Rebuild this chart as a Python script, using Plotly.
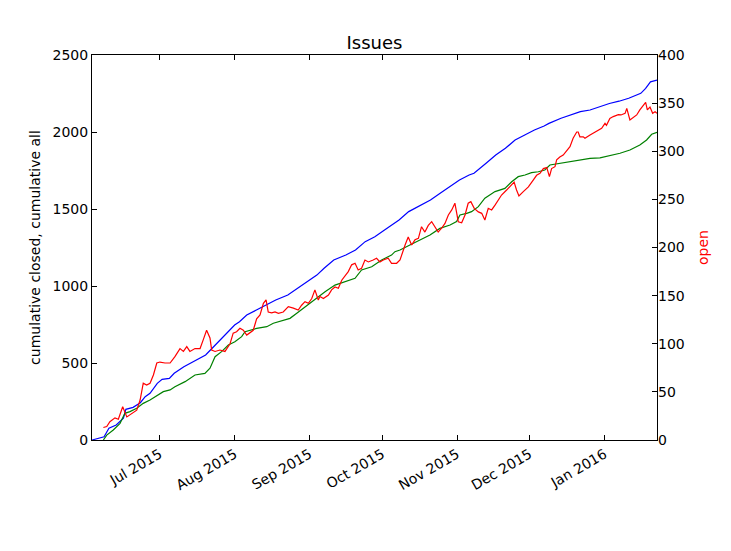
import pandas as pd
import plotly.graph_objects as go

START = pd.Timestamp("2015-06-03")

# cumulative all (blue) - days after START, values
all_days = [0, 5, 7, 10, 13, 14, 17, 20, 22, 24, 27, 29, 32, 34, 38, 43, 47, 51, 55, 59, 61, 64, 68, 72,
            76, 81, 85, 89, 93, 96, 100, 105, 109, 113, 117, 121, 125, 127, 131, 136, 140, 144, 148, 152,
            156, 158, 163, 167, 171, 175, 179, 183, 187, 189, 194, 198, 202, 206, 210, 214, 218, 222, 227,
            229, 231, 233.7]
all_vals = [0, 21, 76, 97, 141, 199, 212, 242, 281, 303, 368, 394, 400, 433, 476, 519, 552, 617, 682, 747,
            768, 812, 844, 877, 909, 942, 985, 1028, 1071, 1115, 1169, 1201, 1234, 1288, 1320, 1364, 1407,
            1429, 1483, 1526, 1558, 1602, 1645, 1688, 1721, 1732, 1797, 1851, 1894, 1948, 1981, 2013, 2039,
            2056, 2089, 2110, 2132, 2143, 2164, 2185, 2200, 2219, 2251, 2283, 2326, 2337]

# cumulative closed (green)
closed_days = [4.7, 6.1, 8.8, 11.6, 13.6, 15.7, 18.5, 21.2, 24.0, 26.8, 29.5, 32.3, 34.3, 38.5, 42.6, 46.7,
               48.8, 50.9, 53.6, 56.4, 59.1, 61.9, 63.3, 68.1, 72.3, 75.0, 79.1, 81.9, 84.7, 87.4, 90.2,
               92.9, 94.3, 96.4, 100.5, 104.6, 108.8, 111.5, 115.7, 119.8, 123.9, 125.3, 127.4, 131.5,
               135.6, 139.8, 143.9, 148.1, 150.8, 152.2, 155.0, 157.0, 159.8, 162.5, 166.7, 170.8, 173.6,
               176.3, 179.1, 181.8, 184.6, 187.3, 189.4, 193.5, 197.7, 201.8, 206.0, 210.1, 214.2, 218.4,
               222.5, 226.6, 229.4, 231.5, 233.7]
closed_vals = [0, 32, 65, 108, 173, 184, 206, 238, 260, 286, 314, 325, 346, 379, 422, 433, 466, 541, 574, 617,
               638, 671, 703, 725, 736, 758, 779, 790, 823, 855, 888, 920, 942, 963, 1006, 1028, 1050, 1104,
               1125, 1169, 1201, 1223, 1234, 1266, 1299, 1331, 1374, 1396, 1418, 1461, 1472, 1483, 1515,
               1570, 1613, 1634, 1677, 1710, 1721, 1736, 1742, 1753, 1786, 1797, 1808, 1818, 1829, 1832,
               1845, 1862, 1883, 1916, 1948, 1985, 1998]

# open (red, right axis)
open_days = [4.7, 6.1, 7.4, 9.5, 10.9, 12.7, 14.4, 15.7, 18.5, 19.9, 21.2, 22.6, 24.0, 25.4, 26.8, 28.1,
             30.2, 32.3, 34.3, 36.4, 37.8, 39.2, 40.5, 42.6, 44.7, 46.0, 47.4, 48.8, 49.5, 50.9, 52.9, 55.0,
             57.1, 58.4, 59.8, 61.2, 62.6, 64.0, 66.7, 68.1, 69.5, 70.9, 72.0, 72.9, 74.3, 75.7, 77.1, 79.1,
             81.2, 83.3, 85.3, 86.7, 88.1, 89.5, 90.9, 92.2, 93.6, 94.3, 95.7, 97.8, 99.1, 100.5, 101.9,
             103.3, 104.6, 106.0, 107.4, 108.8, 110.1, 111.5, 112.9, 114.3, 116.3, 117.7, 119.1, 120.5,
             122.5, 123.9, 126.0, 127.4, 129.5, 130.8, 132.2, 133.6, 135.0, 136.3, 137.7, 139.1, 140.5,
             141.9, 143.2, 144.6, 146.0, 147.4, 148.8, 150.1, 151.5, 152.9, 154.3, 155.6, 156.7, 158.1,
             159.8, 161.2, 162.5, 163.9, 165.3, 166.7, 168.0, 169.4, 171.5, 173.6, 174.6, 175.6, 176.6,
             178.4, 180.5, 182.5, 183.9, 185.3, 186.7, 188.1, 189.2, 190.1, 191.5, 192.2, 193.5, 194.9,
             196.3, 197.7, 199.0, 200.5, 201.1, 201.8, 203.2, 203.9, 206.0, 208.0, 209.4, 210.8, 212.2,
             212.8, 214.2, 215.6, 217.7, 218.8, 220.5, 221.2, 222.5, 223.9, 225.3, 226.6, 228.0, 229.0,
             229.7, 230.8, 231.9, 232.9, 233.7]
open_vals = [13, 14, 19, 23, 21.5, 34.6, 24, 26, 31, 41.5, 59, 57, 59, 67.5, 80, 81, 80, 80, 86.6, 95, 92,
             97, 92, 95, 95, 104, 114, 106, 93.5, 92, 93.5, 92, 100, 111, 112.5, 116, 114, 109, 114, 126,
             130, 142, 145.5, 133, 132, 133, 131.6, 133, 138.5, 137, 135, 140, 143.7, 142, 147, 156, 145.5,
             149, 147, 150.6, 156, 159, 157.6, 166, 171, 175, 182, 183.6, 176.6, 178.4, 187, 185, 187,
             188.8, 185, 187, 188.8, 183.6, 183.6, 187, 202.6, 211, 202.6, 208, 209.5, 221.6, 216, 223,
             226.8, 221.6, 216, 220, 225, 233.8, 239, 246, 226.8, 225.7, 233.8, 246, 247.6, 240.7, 237,
             235.5, 228.6, 240.7, 239, 244, 249, 254.5, 259.7, 265, 268, 259.7, 253.5, 258, 263, 270, 275,
             277, 282, 283, 273.6, 282, 284, 291, 294, 296, 301, 304.7, 313.5, 320, 320, 315, 315, 313.5,
             317, 320, 322, 323.8, 329, 327, 334, 336, 338, 337.7, 339.4, 344.6, 332.5, 335, 337.7, 343,
             348, 350.8, 343, 346, 339.4, 341, 339.4]

left_ticks = [0, 500, 1000, 1500, 2000, 2500]
right_ticks = [0, 50, 100, 150, 200, 250, 300, 350, 400]
x_ticks = ["2015-07-01", "2015-08-01", "2015-09-01", "2015-10-01", "2015-11-01", "2015-12-01", "2016-01-01"]
x_ticklabels = ["Jul 2015", "Aug 2015", "Sep 2015", "Oct 2015", "Nov 2015", "Dec 2015", "Jan 2016"]


def to_dates(days):
    return START + pd.to_timedelta(days, unit="D")


fig = go.Figure()
fig.add_trace(go.Scatter(x=to_dates(all_days), y=all_vals, mode="lines",
                         line=dict(color="#0000ff", width=1.2), name="cumulative all"))
fig.add_trace(go.Scatter(x=to_dates(closed_days), y=closed_vals, mode="lines",
                         line=dict(color="#008000", width=1.2), name="cumulative closed"))
fig.add_trace(go.Scatter(x=to_dates(open_days), y=open_vals, mode="lines", yaxis="y2",
                         line=dict(color="#ff0000", width=1.2), name="open"))

font = dict(family="DejaVu Sans", size=14, color="black")
fig.update_layout(
    width=731, height=551,
    margin=dict(l=84, r=82, t=47, b=119),
    paper_bgcolor="white", plot_bgcolor="white",
    showlegend=False,
    font=font,
    title=dict(text="Issues", x=0.5, xref="paper", xanchor="center",
               y=1 - 35 / 551, yref="container", yanchor="middle",
               font=dict(family="DejaVu Sans", size=18, color="black")),
    xaxis=dict(
        type="date",
        range=[START, START + pd.Timedelta(days=233.7)],
        tickvals=x_ticks, ticktext=x_ticklabels, tickangle=-30,
        ticks="inside", ticklen=5, tickcolor="black",
        showline=True, linecolor="black", linewidth=1, mirror="ticks",
        showgrid=False, zeroline=False, tickfont=font,
    ),
    yaxis=dict(
        range=[0, 2500], tickvals=left_ticks,
        ticks="inside", ticklen=5, tickcolor="black",
        showline=True, linecolor="black", linewidth=1, mirror=True,
        showgrid=False, zeroline=False, tickfont=font,
        title=dict(text="cumulative closed, cumulative all", font=font, standoff=8),
    ),
    yaxis2=dict(
        range=[0, 400], tickvals=right_ticks, overlaying="y", side="right",
        ticks="inside", ticklen=5, tickcolor="black",
        showline=False, showgrid=False, zeroline=False, tickfont=font,
        title=dict(text="open", font=dict(family="DejaVu Sans", size=14, color="#ff0000"), standoff=14),
    ),
)

fig.write_html("out.html")
